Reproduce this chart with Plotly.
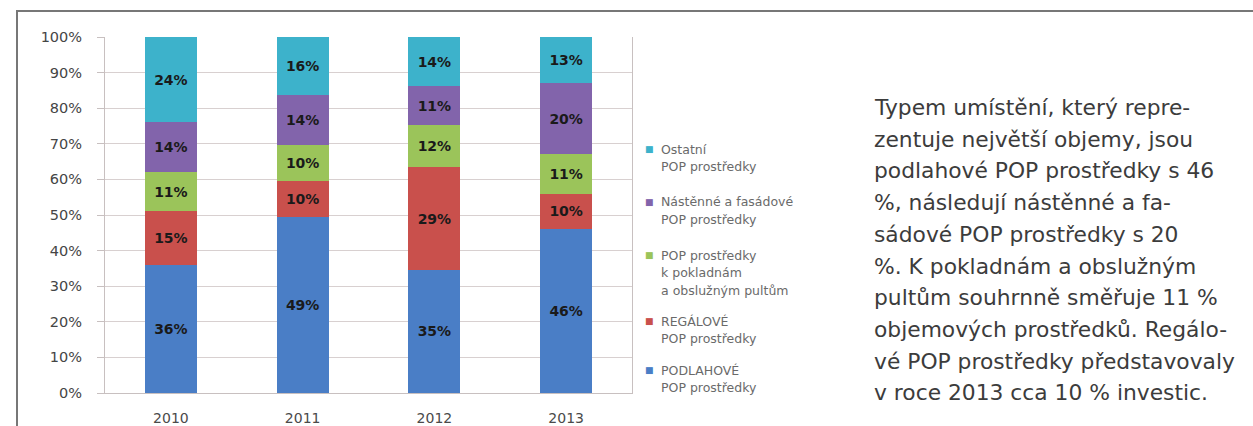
import plotly.graph_objects as go

W, H = 1253, 426

# Shares of POP display investment by placement type (%)
years = ["2010", "2011", "2012", "2013"]
podlahove = [36, 49, 35, 46]
regalove = [15, 10, 29, 10]
pokladny = [11, 10, 12, 11]
nastenne = [14, 14, 11, 20]
ostatni = [24, 16, 14, 13]

y_ticks = [0, 10, 20, 30, 40, 50, 60, 70, 80, 90, 100]
y_tick_text = [f"{v}%" for v in y_ticks]

# stacked bottom -> top
series = [
    (["PODLAHOVÉ", "POP prostředky"], podlahove, "#4a7ec6"),
    (["REGÁLOVÉ", "POP prostředky"], regalove, "#c9504c"),
    (["POP prostředky", "k pokladnám", "a obslužným pultům"], pokladny, "#9bc45a"),
    (["Nástěnné a fasádové", "POP prostředky"], nastenne, "#8264ab"),
    (["Ostatní", "POP prostředky"], ostatni, "#3db2cb"),
]

text_lines = [
    "Typem umístění, který repre-",
    "zentuje největší objemy, jsou",
    "podlahové POP prostředky s 46",
    "%, následují nástěnné a fa-",
    "sádové POP prostředky s 20",
    "%. K pokladnám a obslužným",
    "pultům souhrnně směřuje 11 %",
    "objemových prostředků. Regálo-",
    "vé POP prostředky představovaly",
    "v roce 2013 cca 10 % investic.",
]


def px(x):
    return x / W


def py(y):
    return 1 - y / H


fig = go.Figure()
for lines, vals, color in series:
    fig.add_trace(go.Bar(
        x=years, y=vals, name=" ".join(lines),
        marker=dict(color=color, line=dict(width=0)),
        text=[f"{v}%" for v in vals],
        textposition="inside", insidetextanchor="middle", textangle=0,
        textfont=dict(family="DejaVu Sans", size=14, color="#1a1a1a", weight="bold"),
        showlegend=False,
    ))

annotations = []
# legend entries, top entry first
leg_y = [149, 202, 255, 321, 370]
for (lines, vals, color), y0 in zip(reversed(series), leg_y):
    annotations.append(dict(
        xref="paper", yref="paper", x=px(649), y=py(y0), text="■",
        showarrow=False, xanchor="center", yanchor="middle",
        font=dict(family="DejaVu Sans", size=9, color=color)))
    for i, ln in enumerate(lines):
        annotations.append(dict(
            xref="paper", yref="paper", x=px(659), y=py(y0 + 17.5 * i), text=ln,
            showarrow=False, xanchor="left", yanchor="middle",
            font=dict(family="DejaVu Sans", size=12.5, color="#6a6a6a")))

# paragraph on the right
for i, ln in enumerate(text_lines):
    annotations.append(dict(
        xref="paper", yref="paper", x=px(872), y=py(107.5 + 31.7 * i), text=ln,
        showarrow=False, xanchor="left", yanchor="middle",
        font=dict(family="DejaVu Sans", size=21.8, color="#3c3c3c")))

shapes = [
    dict(type="line", xref="paper", yref="paper", x0=px(17), y0=0, x1=px(17), y1=py(11),
         line=dict(color="#777777", width=2)),
    dict(type="line", xref="paper", yref="paper", x0=px(16), y0=py(11), x1=1, y1=py(11),
         line=dict(color="#777777", width=2)),
]

fig.update_layout(
    width=W, height=H,
    margin=dict(l=0, r=0, t=0, b=0, autoexpand=False),
    paper_bgcolor="white", plot_bgcolor="white",
    barmode="stack", barnorm="percent", bargap=0.605,
    annotations=annotations, shapes=shapes,
    xaxis=dict(domain=[px(105), px(632)], showgrid=False, automargin=False,
               tickfont=dict(family="DejaVu Sans", size=14, color="#4a4a4a"),
               showline=True, linecolor="#c8c0c0", linewidth=1,
               ticks="", ticklabelstandoff=12),
    yaxis=dict(domain=[py(393), py(37)], range=[0, 100], automargin=False,
               tickmode="array", tickvals=y_ticks, ticktext=y_tick_text,
               showgrid=True, gridcolor="#d8d0d0", gridwidth=1,
               showline=True, mirror=True, linecolor="#c8c0c0", linewidth=1,
               ticks="outside", ticklen=7, tickcolor="#c8c0c0",
               tickfont=dict(family="DejaVu Sans", size=14.5, color="#454545"),
               ticklabelstandoff=12, zeroline=False),
)

fig.write_html("out.html")
